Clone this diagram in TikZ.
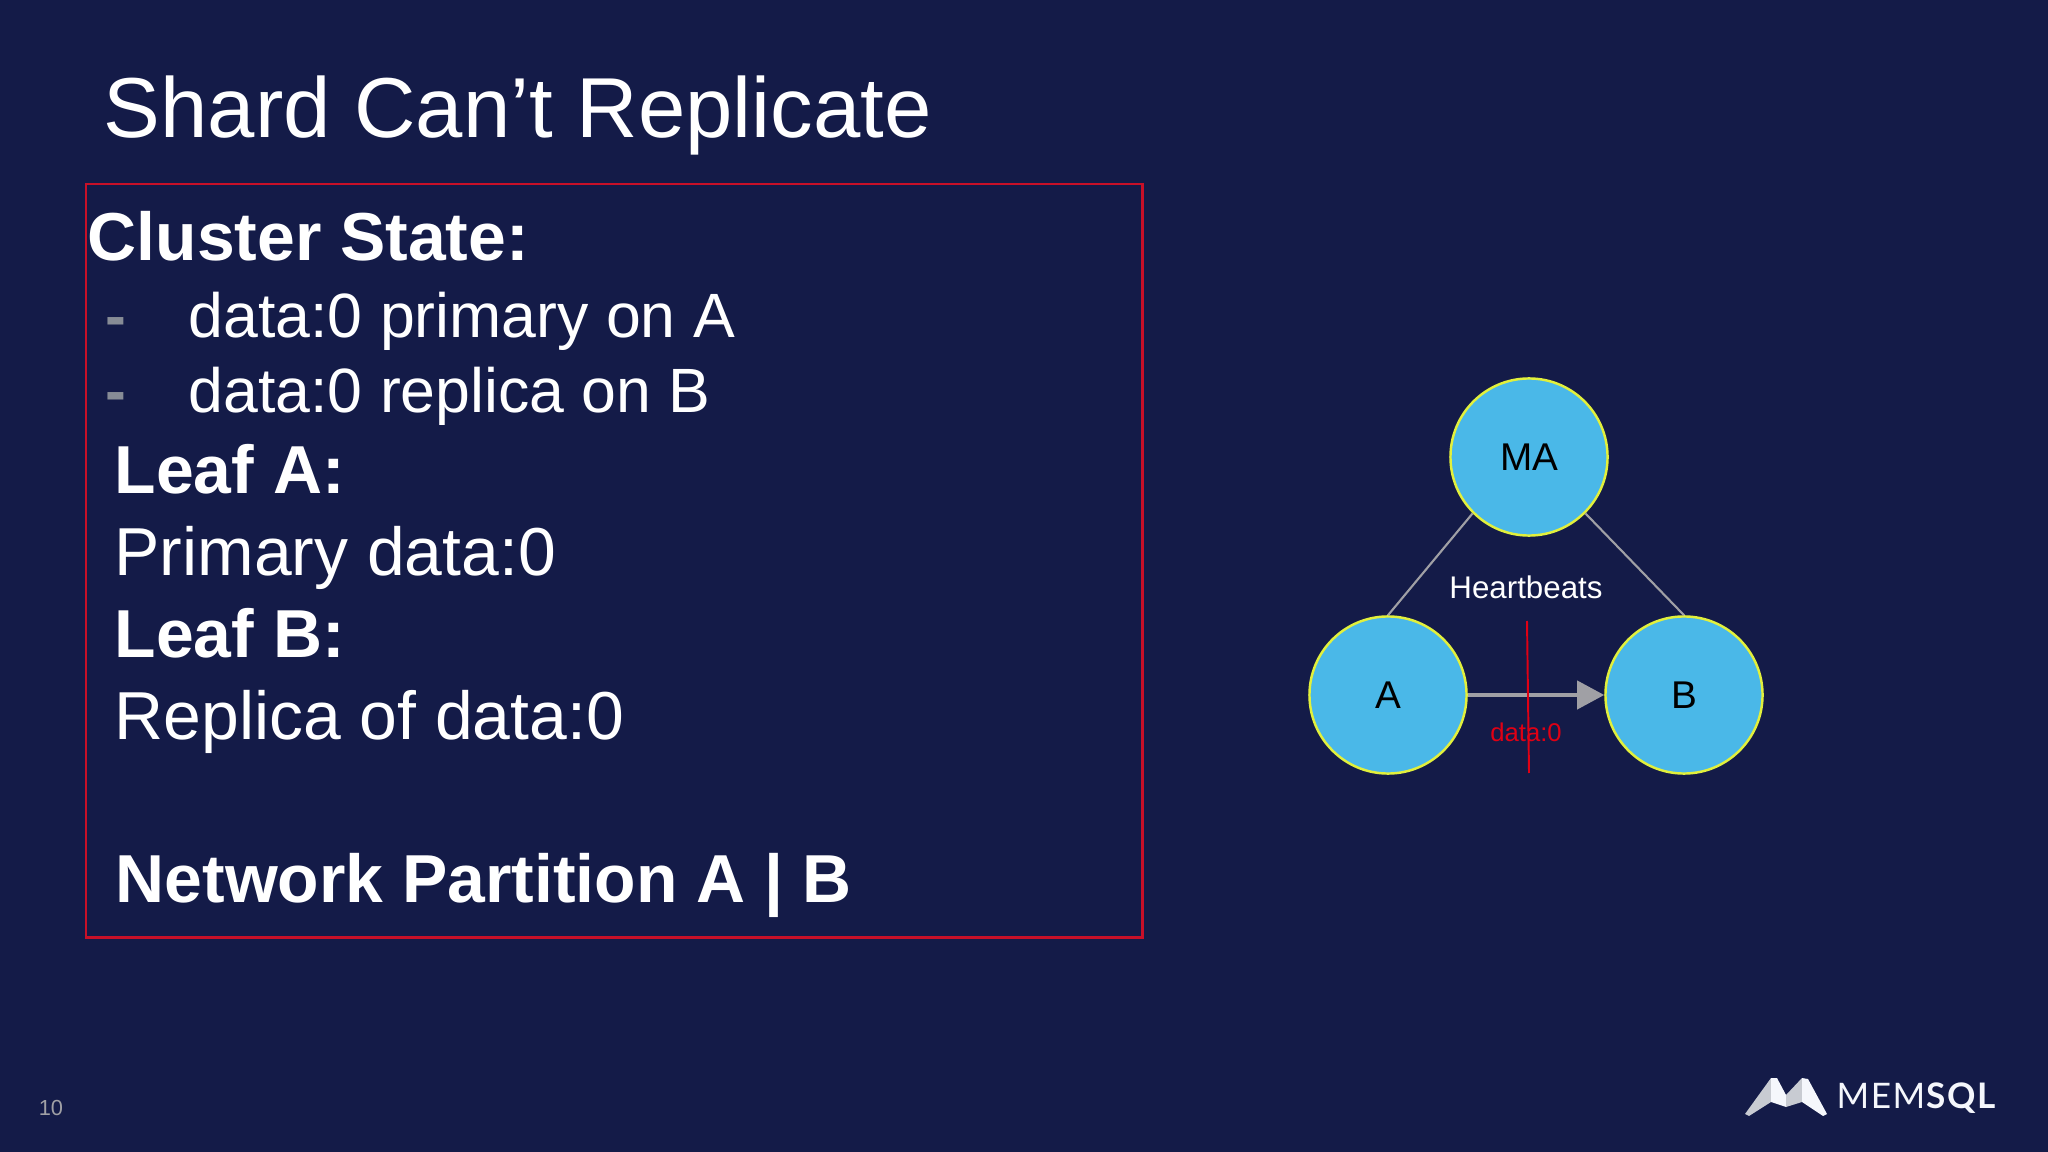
\documentclass[tikz,border=0pt]{standalone}
\usepackage{fontspec}
\setmainfont{Liberation Sans}
\newfontfamily\logofont[LetterSpace=4]{Lato}
\usetikzlibrary{arrows.meta,positioning,calc}
\definecolor{slidebg}{RGB}{20,27,72}
\definecolor{boxred}{RGB}{200,16,40}
\definecolor{cutred}{RGB}{224,0,20}
\definecolor{leafblue}{RGB}{74,184,232}
\definecolor{ringyellow}{RGB}{226,240,60}
\definecolor{linkgray}{RGB}{160,160,165}
\definecolor{dashgray}{RGB}{135,140,150}
\definecolor{wingwhite}{RGB}{245,247,252}
\definecolor{winggray}{RGB}{200,203,210}
\tikzset{
  plain/.style={font=\fontsize{19.3pt}{23pt}\selectfont, text=white, anchor=base west, inner sep=0pt},
  heading/.style={font=\fontsize{19.3pt}{23pt}\selectfont\bfseries, text=white, anchor=base west, inner sep=0pt},
  bullet/.style={font=\fontsize{17.8pt}{21pt}\selectfont, text=white, anchor=base west, inner sep=0pt},
  dashmark/.style={font=\fontsize{17.8pt}{21pt}\selectfont\bfseries, text=dashgray, anchor=base west, inner sep=0pt},
  member/.style={draw=ringyellow, fill=leafblue, circle, line width=0.7pt, minimum size=1.57cm, inner sep=0pt, font=\fontsize{11pt}{13pt}\selectfont, text=black},
  beat/.style={draw=linkgray, line width=0.6pt},
}
\begin{document}
\begin{tikzpicture}[x=0.01cm, y=-0.01cm]
  \fill[slidebg] (0,0) rectangle (2048,1152);
  \useasboundingbox (0,0) rectangle (2048,1152);
  % title and text box
  \node[font=\fontsize{24.2pt}{29pt}\selectfont, text=white, anchor=base west, inner sep=0pt] (title) at (103,138) {Shard Can’t Replicate};
  \node[draw=boxred, line width=0.7pt, minimum width=10.56cm, minimum height=7.53cm, anchor=north west, inner sep=0pt] (statebox) at (84.5,183) {};
  \node[heading] (cluster) at (87,261) {Cluster State:};
  \foreach \name/\ypos/\txt in {primary/338/data:0 primary on A, replica/413/data:0 replica on B} {
    \node[dashmark] (dash\name) at (105,\ypos) {-};
    \node[bullet] (\name) at (188,\ypos) {\txt};
  }
  \node[heading] (leafa) at (114,494) {Leaf A:};
  \node[plain] (primaryline) at (114,575) {Primary data:0};
  \node[heading] (leafb) at (114,657) {Leaf B:};
  \node[plain] (replicaline) at (114,739) {Replica of data:0};
  \node[heading] (partition) at (115,902) {Network Partition A | B};
  % cluster
  \node[member] (ma) at (1529,457) {MA};
  \node[member] (a) at (1388,695) {A};
  \node[member] (b) at (1684,695) {B};
  \draw[beat] (ma.225) -- (a.north);
  \draw[beat] (ma.-45) -- (b.north);
  \draw[-{Triangle[length=0.27cm,width=0.28cm]}, draw=linkgray, fill=linkgray, line width=1.1pt] (a) -- (b);
  \node[font=\fontsize{8.9pt}{11pt}\selectfont, text=white, inner sep=0pt] (heartbeats) at (1526,587) {Heartbeats};
  \node[font=\fontsize{7.3pt}{9pt}\selectfont, text=cutred, inner sep=0pt] (datalabel) at (1526,732) {data:0};
  \coordinate (cuttop) at (1527,621);
  \coordinate (cutbottom) at (1529,773);
  \draw[cutred, line width=0.55pt] (cuttop) -- (cutbottom);
  % footer
  \node[font=\fontsize{6.2pt}{8pt}\selectfont, text=linkgray, inner sep=0pt] (pagenum) at (51,1108) {10};
  \fill[winggray] (1745,1114) -- (1771,1078) -- (1771,1102) -- (1749,1116) -- cycle;
  \fill[wingwhite] (1771,1078) -- (1777,1078) -- (1786,1095) -- (1786,1107) -- (1771,1102) -- cycle;
  \fill[winggray] (1786,1095) -- (1802,1078) -- (1802,1102) -- (1786,1107) -- cycle;
  \fill[wingwhite] (1802,1078) -- (1808,1079) -- (1827,1114) -- (1823,1116) -- (1802,1102) -- cycle;
  \node[font=\fontsize{10pt}{12pt}\selectfont\logofont, text=wingwhite, anchor=base west, inner sep=0pt] (logoname) at (1836,1108) {MEM\textbf{SQL}};
\end{tikzpicture}
\end{document}
